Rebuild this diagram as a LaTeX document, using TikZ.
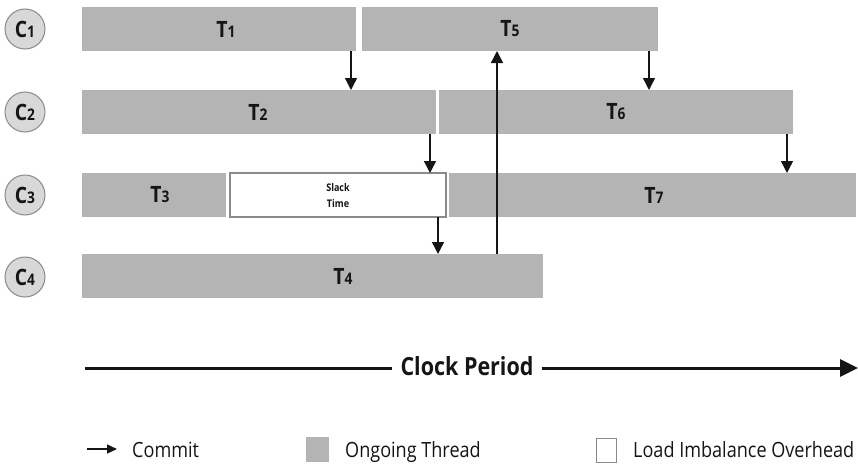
\documentclass[tikz,border=0pt]{standalone}
\usepackage{fontspec}
\setmainfont{Open Sans}[FakeStretch=0.86]
\usetikzlibrary{arrows.meta}

\definecolor{barfill}{HTML}{B4B4B4}
\definecolor{cpufill}{HTML}{D8D8D8}
\definecolor{cpuedge}{HTML}{8A8A8A}
\definecolor{ink}{HTML}{151515}

% big letter followed by a smaller index digit on the same baseline
\newcommand{\idx}[2]{\bfseries\fontsize{22.5}{22.5}\selectfont #1\fontsize{16}{16}\selectfont #2}

\tikzset{
  x=1pt, y=-1pt,
  thread/.style={fill=barfill, draw=none},
  slackbox/.style={fill=white, draw=cpuedge, line width=1.3pt},
  cpu/.style={circle, minimum size=40pt, inner sep=0pt, fill=cpufill, draw=cpuedge, line width=1pt, text=ink},
  lbl/.style={text=ink, inner sep=0pt, anchor=center},
  commit/.style={draw=ink, line width=1.4pt, -{Triangle[width=12pt,length=12pt]}},
  legtext/.style={text=ink, inner sep=0pt, anchor=base west, font=\fontsize{21}{21}\selectfont},
}

\begin{document}
\begin{tikzpicture}
\useasboundingbox (0,0) rectangle (858,463);

% cores
\node[cpu] (c1) at (25,29)  {\idx{C}{1}};
\node[cpu] (c2) at (25,112) {\idx{C}{2}};
\node[cpu] (c3) at (25,195) {\idx{C}{3}};
\node[cpu] (c4) at (25,277) {\idx{C}{4}};

% thread bars
\path[thread] (82,7)    rectangle (356,51);
\path[thread] (362,7)   rectangle (658,51);
\path[thread] (82,90)   rectangle (436,134);
\path[thread] (439,90)  rectangle (793,134);
\path[thread] (82,173)  rectangle (226,217);
\path[thread] (449,173) rectangle (856,217);
\path[thread] (82,254)  rectangle (543,298);
\path[slackbox] (230,173) rectangle (446,217);

% named anchor points on the bars
\coordinate (t1b) at (351,51);
\coordinate (t2t) at (351,90);
\coordinate (t5b) at (649,51);
\coordinate (t6t) at (649,90);
\coordinate (t2b) at (430,134);
\coordinate (slt) at (430,173);
\coordinate (t6b) at (787,134);
\coordinate (t7t) at (787,173);
\coordinate (slb) at (438,217);
\coordinate (t4t) at (438,254);
\coordinate (t4u) at (497,254);
\coordinate (t5u) at (497,51);

% thread labels
\node[lbl] (T1) at (226,29)  {\idx{T}{1}};
\node[lbl] (T5) at (510,29)  {\idx{T}{5}};
\node[lbl] (T2) at (258,112) {\idx{T}{2}};
\node[lbl] (T6) at (616,112) {\idx{T}{6}};
\node[lbl] (T3) at (160,195) {\idx{T}{3}};
\node[lbl] (T7) at (654,195) {\idx{T}{7}};
\node[lbl] (T4) at (343,276) {\idx{T}{4}};
\node[lbl, font=\bfseries\fontsize{10.5}{16}\selectfont, align=center] (slack) at (338,196) {Slack\\Time};

% commits
\draw[commit] (t1b) -- (t2t);
\draw[commit] (t5b) -- (t6t);
\draw[commit] (t2b) -- (slt);
\draw[commit] (t6b) -- (t7t);
\draw[commit] (slb) -- (t4t);
\draw[commit] (t4u) -- (t5u);

% clock period axis
\node[lbl, font=\bfseries\fontsize{25}{25}\selectfont] (clk) at (467,366) {Clock Period};
\coordinate (axL) at (85,368);
\coordinate (axR) at (858,368);
\draw[draw=ink, line width=3pt] (axL) -- ([xshift=-8pt]clk.west |- axL);
\draw[draw=ink, line width=3pt, -{Triangle[width=17pt,length=18pt]}] ([xshift=8pt]clk.east |- axR) -- (axR);

% legend
\coordinate (la) at (87,449);
\coordinate (lb) at (117,449);
\draw[draw=ink, line width=1.4pt, -{Triangle[width=9pt,length=10pt]}] (la) -- (lb);
\node[legtext] (lcommit) at (132,457) {Commit};
\path[thread] (306,437) rectangle (329,462);
\node[legtext] (lthread) at (345,457) {Ongoing Thread};
\path[slackbox, line width=1pt] (596,438) rectangle (616,462);
\node[legtext] (lslack) at (633,457) {Load Imbalance Overhead};
\end{tikzpicture}
\end{document}
